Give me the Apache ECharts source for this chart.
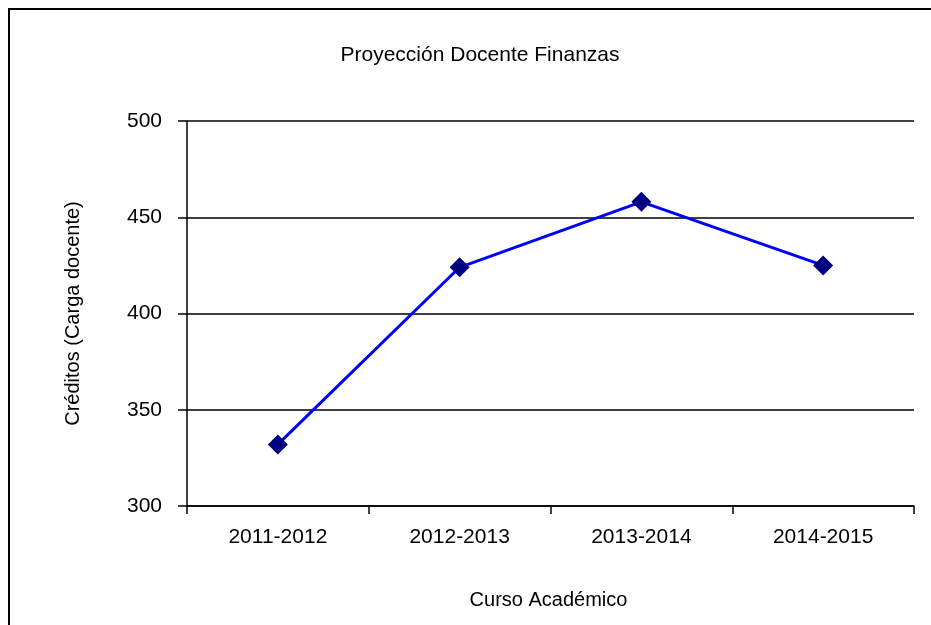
<!DOCTYPE html>
<html>
<head>
<meta charset="utf-8">
<script src="https://cdn.jsdelivr.net/npm/echarts@6/dist/echarts.min.js"></script>
<style>
  html, body { margin: 0; padding: 0; background: #fff; }
  #chart { width: 931px; height: 625px; }
</style>
</head>
<body>
<div id="chart"></div>
<script>
// datos del gráfico
var cursos = ['2011-2012', '2012-2013', '2013-2014', '2014-2015'];
var creditos = [332, 424, 458, 425];

var fuente = 'Liberation Sans, Arial, sans-serif';
var myChart = echarts.init(document.getElementById('chart'));

var option = {
  animation: false,
  backgroundColor: '#fff',
  title: {
    text: 'Proyección Docente Finanzas',
    left: 475,
    textAlign: 'center',
    top: 40,
    textStyle: { fontFamily: fuente, fontSize: 21, fontWeight: 'normal', color: '#000' }
  },
  // marco exterior
  graphic: [{
    type: 'rect',
    shape: { x: 9, y: 9, width: 1000, height: 1000 },
    style: { fill: 'none', stroke: '#000', lineWidth: 2 }
  }],
  grid: { left: 187, right: 17, top: 121, bottom: 119 },
  xAxis: {
    type: 'category',
    data: cursos,
    boundaryGap: true,
    name: 'Curso Académico',
    nameLocation: 'middle',
    nameGap: 84,
    nameTextStyle: { fontFamily: fuente, fontSize: 20, color: '#000', padding: [0, 4, 0, 0] },
    axisLine: { lineStyle: { color: '#000', width: 1.5 } },
    axisTick: { show: true, length: 8, inside: false, lineStyle: { color: '#000', width: 1.5 } },
    axisLabel: { fontFamily: fuente, fontSize: 21, color: '#000', margin: 21 }
  },
  yAxis: {
    type: 'value',
    min: 300,
    max: 500,
    interval: 50,
    name: 'Créditos (Carga docente)',
    nameLocation: 'middle',
    nameGap: 104,
    nameTextStyle: { fontFamily: fuente, fontSize: 20, color: '#000' },
    axisLine: { show: true, lineStyle: { color: '#000', width: 1.5 } },
    axisTick: { show: true, length: 9, lineStyle: { color: '#000', width: 1.5 } },
    axisLabel: { fontFamily: fuente, fontSize: 21, color: '#000', margin: 25 },
    splitLine: { show: true, lineStyle: { color: '#000', width: 1.5 } }
  },
  series: [{
    type: 'line',
    data: creditos,
    symbol: 'diamond',
    symbolSize: 20,
    lineStyle: { color: '#0000ff', width: 3 },
    itemStyle: { color: '#000080' }
  }]
};

myChart.setOption(option);
</script>
</body>
</html>
